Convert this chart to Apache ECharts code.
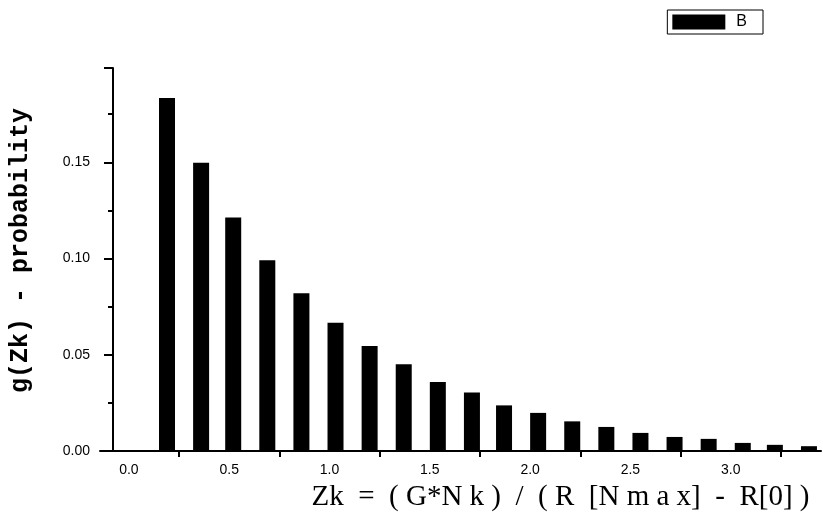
<!DOCTYPE html>
<html>
<head>
<meta charset="utf-8">
<script src="https://cdn.jsdelivr.net/npm/echarts@6/dist/echarts.min.js"></script>
<style>
html,body{margin:0;padding:0;background:#fff;}
#chart{width:823px;height:525px;}
</style>
</head>
<body>
<div id="chart"></div>
<script>
// Data
const zk = [0.19, 0.36, 0.52, 0.69, 0.86, 1.03, 1.20, 1.37, 1.54, 1.71, 1.87, 2.04, 2.21, 2.38, 2.55, 2.72, 2.89, 3.06, 3.22, 3.39];
const prob = [0.1834, 0.1498, 0.1213, 0.0991, 0.0819, 0.0667, 0.0546, 0.0451, 0.0358, 0.0304, 0.0237, 0.0198, 0.0154, 0.0125, 0.0094, 0.0073, 0.0063, 0.0042, 0.0032, 0.0025];
const xLabelValues = [0, 0.5, 1.0, 1.5, 2.0, 2.5, 3.0];
const xTickValues = [0.25, 0.75, 1.25, 1.75, 2.25, 2.75, 3.25];
const yLabelValues = [0, 0.05, 0.10, 0.15];
const seriesName = 'B';
const xTitle = 'Zk  =  ( G*N k )  /  ( R  [N m a x]  -  R[0] )';
const yTitle = 'g(Zk) - probability';

const chart = echarts.init(document.getElementById('chart'));
chart.setOption({
  animation: false,
  backgroundColor: '#fff',
  legend: {
    right: 60, top: 10,
    data: [seriesName],
    icon: 'rect',
    itemWidth: 53, itemHeight: 15,
    borderColor: '#000', borderWidth: 1,
    padding: [4, 16, 4, 5],
    itemGap: 0,
    textStyle: {fontFamily: 'Liberation Sans, Arial, sans-serif', fontSize: 16, color: '#000', padding: [0,0,0,6]}
  },
  grid: {left: 98, right: 2, top: 68, bottom: 74, containLabel: false},
  xAxis: {
    type: 'value',
    min: -0.144, max: 3.45,
    axisLine: {onZero: true, lineStyle: {color: '#000', width: 2}},
    axisTick: {show: true, customValues: xTickValues, length: 6, inside: false, lineStyle: {color: '#000', width: 2}},
    axisLabel: {customValues: xLabelValues, color: '#000', fontSize: 14, margin: 12,
      fontFamily: 'Liberation Sans, Arial, sans-serif',
      formatter: v => v.toFixed(1)},
    splitLine: {show: false},
    name: xTitle,
    nameLocation: 'middle',
    nameGap: 32,
    nameTextStyle: {fontFamily: 'Liberation Serif, Times New Roman, serif', fontSize: 29, color: '#000', padding: [0, 0, 0, 200]}
  },
  yAxis: {
    type: 'value',
    min: 0, max: 0.199, interval: 0.05,
    offset: -13,
    axisLine: {show: true, onZero: false, lineStyle: {color: '#000', width: 2}},
    axisTick: {show: true, length: 9, lineStyle: {color: '#000', width: 2}},
    minorTick: {show: true, splitNumber: 2, length: 5, lineStyle: {color: '#000', width: 2}},
    axisLabel: {customValues: yLabelValues, color: '#000', fontSize: 14, margin: 23,
      fontFamily: 'Liberation Sans, Arial, sans-serif',
      formatter: v => v.toFixed(2)},
    splitLine: {show: false},
    minorSplitLine: {show: false},
    name: yTitle,
    nameLocation: 'middle',
    nameGap: 80,
    nameTextStyle: {fontFamily: 'Liberation Mono, Courier New, monospace', fontWeight: 'bold', fontSize: 25, color: '#000', padding: [0, 0, 0, 18]}
  },
  series: [{
    name: seriesName,
    type: 'bar',
    barWidth: 16,
    itemStyle: {color: '#000'},
    data: zk.map((x, i) => [x, prob[i]])
  }]
});
</script>
</body>
</html>
